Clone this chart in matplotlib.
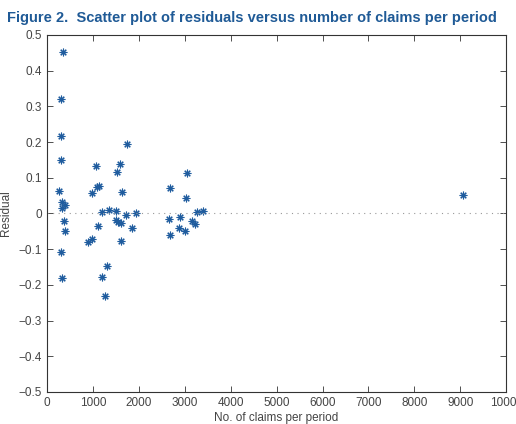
import numpy as np
import matplotlib.pyplot as plt

# number of claims per period and residuals
claims = [342, 298, 312, 298, 269, 334, 392, 327, 370, 385, 312, 334,
          980, 1068, 1096, 1133, 1518, 1590, 1641, 1736, 1191, 1351, 1503,
          1728, 1946, 1111, 886, 988, 1496, 1540, 1605, 1845, 1605, 1314,
          1198, 1270,
          2686, 3057, 3028, 3260, 3405, 2651, 2898, 3152, 3224, 2883, 3000,
          2680, 9063]
resid = [0.453, 0.322, 0.216, 0.151, 0.064, 0.033, 0.025, 0.016, -0.022,
         -0.048, -0.108, -0.181,
         0.058, 0.132, 0.073, 0.078, 0.115, 0.138, 0.060, 0.196, 0.005,
         0.009, 0.006, -0.003, 0.000, -0.036, -0.081, -0.072, -0.019,
         -0.024, -0.027, -0.040, -0.076, -0.147, -0.177, -0.230,
         0.071, 0.112, 0.042, 0.003, 0.006, -0.016, -0.010, -0.020, -0.030,
         -0.040, -0.048, -0.060, 0.051]

title = "Figure 2.  Scatter plot of residuals versus number of claims per period"

plt.rcParams['font.family'] = ['Liberation Sans', 'DejaVu Sans']

fig = plt.figure(figsize=(5.16, 4.24), dpi=100)
ax = fig.add_axes([0.091, 0.0755, 0.890, 0.842])

ax.plot(claims, resid, linestyle='none', marker=(8, 2, 0), markersize=5.5,
        markeredgewidth=0.8, color='#1f5c9e')
ax.plot([0, 10000], [0, 0], linestyle=(0, (1, 4)), color='#999999', linewidth=0.8)

ax.set_xlim(0, 10000)
ax.set_ylim(-0.5, 0.5)
ax.set_xticks(np.arange(0, 10001, 1000))
ax.set_yticks(np.round(np.arange(-0.5, 0.51, 0.1), 1))
ax.set_yticklabels(['\u22120.5', '\u22120.4', '\u22120.3', '\u22120.2', '\u22120.1',
                    '0', '0.1', '0.2', '0.3', '0.4', '0.5'])
ax.tick_params(direction='in', top=True, right=True, labelsize=8.5,
               length=4, width=0.6, colors='#333333', labelcolor='#444444')
for s in ax.spines.values():
    s.set_linewidth(0.8)
    s.set_color('#333333')

ax.set_xlabel("No. of claims per period", fontsize=8.5, color='#444444', labelpad=2)
ax.set_ylabel("Residual", fontsize=8.5, color='#444444', labelpad=5)

fig.text(0.014, 0.957, title, fontsize=10.5, fontweight='bold', color='#1f5a96',
         va='center', ha='left')

fig.savefig('out.png', dpi=100)
